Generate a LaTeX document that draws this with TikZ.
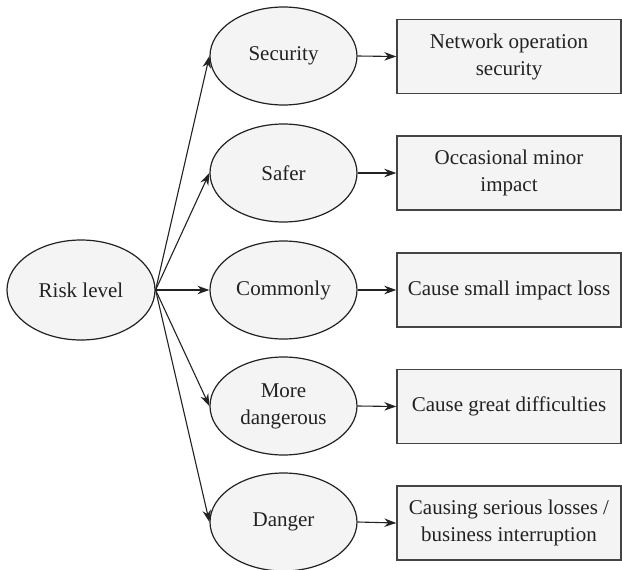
\documentclass[tikz,border=0pt]{standalone}
\usepackage{fontspec}
\setmainfont{Liberation Serif}
\usetikzlibrary{shapes.geometric,arrows.meta}
\definecolor{shade}{HTML}{F4F4F4}
\definecolor{ink}{HTML}{222222}
\definecolor{frame}{HTML}{444444}
\begin{document}
\begin{tikzpicture}[x=1pt,y=-1pt,
  every node/.style={font=\fontsize{21}{27}\selectfont, text=ink, align=center},
  level/.style={ellipse, draw=ink, fill=shade, line width=1.2pt,
    minimum width=147pt, minimum height=98pt, inner sep=0pt},
  outcome/.style={rectangle, draw=frame, fill=shade, line width=1.4pt,
    minimum width=224pt, minimum height=74pt, inner sep=0pt},
  link/.style={draw=ink, line width=1.1pt, -{Stealth[length=12pt,width=8.5pt]}}]
\useasboundingbox (0,0) rectangle (622,570);

% root
\node[level, minimum width=148pt, minimum height=100pt] (risk) at (81,290) {Risk level};

% risk grades
\node[level] (l1) at (283.5,56)  {Security};
\node[level] (l2) at (283.5,173) {Safer};
\node[level] (l3) at (283.5,290) {Commonly};
\node[level] (l4) at (283.5,406) {More\\dangerous};
\node[level] (l5) at (283.5,522) {Danger};

% consequences
\node[outcome] (o1) at (509,56.5)  {Network operation\\security};
\node[outcome] (o2) at (509,173)   {Occasional minor\\impact};
\node[outcome] (o3) at (509,290)   {Cause small impact loss};
\node[outcome] (o4) at (509,406.5) {Cause great difficulties};
\node[outcome] (o5) at (509,523)   {Causing serious losses /\\business interruption};

\foreach \i in {1,...,5} {
  \draw[link] (risk.east) -- (l\i.west);
  \draw[link] (l\i.east) -- (o\i.west);
}
\end{tikzpicture}
\end{document}
